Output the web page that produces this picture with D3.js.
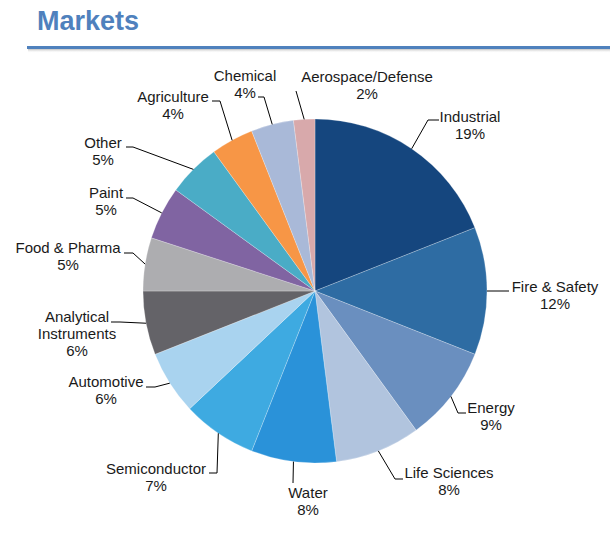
<!DOCTYPE html>
<html><head><meta charset="utf-8">
<script src="https://cdn.jsdelivr.net/npm/d3@7/dist/d3.min.js"></script>
<style>body{margin:0;background:#fff;} svg{display:block;}</style>
</head><body>
<script>
const categories = ["Industrial","Fire & Safety","Energy","Life Sciences","Water","Semiconductor","Automotive","Analytical Instruments","Food & Pharma","Paint","Other","Agriculture","Chemical","Aerospace/Defense"];
const values = [19,12,9,8,8,7,6,6,5,5,5,4,4,2];
const colors = ["#15467e","#2e6ca3","#6a8fbf","#b1c4de","#2a92d9","#3eaae1","#a9d3ef","#646368","#adadb0","#8064a2","#4aacc6","#f79646","#a9b9d8","#d8a9ab"];
// label text lines (wrapped)
const labelLines = [["Industrial"],["Fire & Safety"],["Energy"],["Life Sciences"],["Water"],["Semiconductor"],["Automotive"],["Analytical","Instruments"],["Food & Pharma"],["Paint"],["Other"],["Agriculture"],["Chemical"],["Aerospace/Defense"]];
// label layout: [textCenterX, firstBaselineY, elbowX, elbowY, endX]
const labelLayout = [
  [470,122,428,120,439],
  [555,292,497,291,509],
  [491,413,458,413,466],
  [449,478,395,479,403],
  [308,498,293,483,293],
  [156,474,217,473,209],
  [106,387,155,387,146],
  [77,322,120,322,111],
  [68,253,133,253,124],
  [106,198,133,198,126],
  [103,148,133,147,126],
  [173,102,220,101,212],
  [245,81,264,97,258],
  [367,82,296,91,296]
];

const W=610,H=535, cx=315, cy=291, R=172;
const svg=d3.select("body").append("svg").attr("width",W).attr("height",H);

// title
svg.append("text").attr("x",37).attr("y",30)
  .attr("font-family","Liberation Sans, Arial, sans-serif").attr("font-weight","bold")
  .attr("font-size",27).attr("fill","#4f81bd").text("Markets");
const defs=svg.append("defs");
const sg=defs.append("linearGradient").attr("id","sh").attr("x1",0).attr("y1",0).attr("x2",0).attr("y2",1);
sg.append("stop").attr("offset",0).attr("stop-color","#999").attr("stop-opacity",0.6);
sg.append("stop").attr("offset",1).attr("stop-color","#fff").attr("stop-opacity",0);
svg.append("rect").attr("x",28).attr("y",49).attr("width",W-28).attr("height",4).attr("fill","url(#sh)");
svg.append("rect").attr("x",27).attr("y",46).attr("width",W-27).attr("height",3).attr("fill","#4f81bd");

const pie=d3.pie().sort(null).value(d=>d)(values);
const arc=d3.arc().innerRadius(0).outerRadius(R);
const g=svg.append("g").attr("transform",`translate(${cx},${cy})`);
g.selectAll("path").data(pie).join("path")
  .attr("d",arc).attr("fill",(d,i)=>colors[i])
  .attr("stroke","#ffffff").attr("stroke-width",0.4).attr("stroke-opacity",0.6);

const edge=d3.arc().innerRadius(R).outerRadius(R);
const lab=svg.append("g");
pie.forEach((d,i)=>{
  const [ex,ey]=edge.centroid(d);
  const L=labelLayout[i];
  lab.append("polyline")
    .attr("points",`${cx+ex},${cy+ey} ${L[2]},${L[3]} ${L[4]},${L[3]}`)
    .attr("fill","none").attr("stroke","#000").attr("stroke-width",1);
  const t=lab.append("text").attr("text-anchor","middle")
    .attr("font-family","Liberation Sans, Arial, sans-serif").attr("font-size",15).attr("fill","#1a1a1a");
  const lines=labelLines[i].concat([values[i]+"%"]);
  lines.forEach((s,k)=>t.append("tspan").attr("x",L[0]).attr("y",L[1]+k*17).text(s));
});
</script>
</body></html>
